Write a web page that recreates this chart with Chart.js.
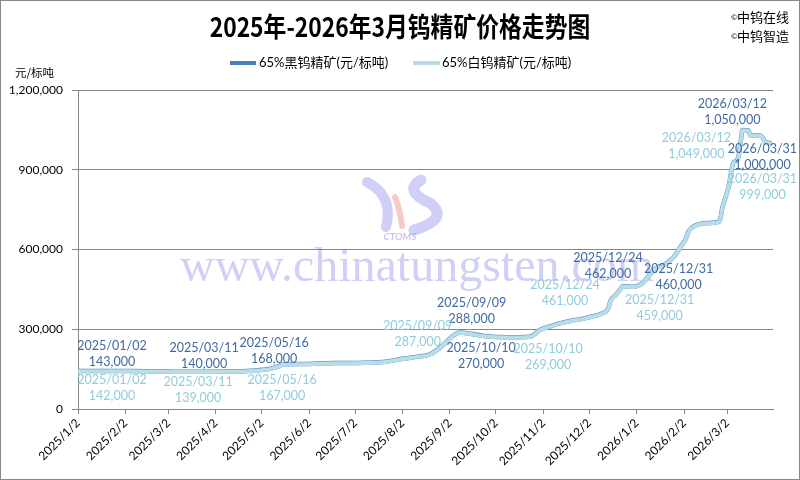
<!DOCTYPE html>
<html>
<head>
<meta charset="utf-8">
<script src="https://cdn.jsdelivr.net/npm/chart.js@4"></script>
<style>
  body { margin: 0; background: #fff; }
  #wrap { width: 800px; height: 480px; position: relative; }
</style>
</head>
<body>
<div id="wrap"><canvas id="myChart" width="800" height="480"></canvas></div>
<script>
(function () {

    // dates of the price points
    const dates = [
        '2025-01-02', '2025-01-15', '2025-02-05', '2025-02-20', '2025-03-03', '2025-03-11', '2025-03-25',
        '2025-04-08', '2025-04-22', '2025-04-30', '2025-05-08', '2025-05-13', '2025-05-16', '2025-05-28',
        '2025-06-10', '2025-06-24', '2025-07-08', '2025-07-22', '2025-08-01', '2025-08-12', '2025-08-20',
        '2025-08-26', '2025-09-01', '2025-09-05', '2025-09-09', '2025-09-15', '2025-09-24', '2025-10-10',
        '2025-10-24', '2025-10-31', '2025-11-07', '2025-11-14', '2025-11-21', '2025-11-28', '2025-12-05',
        '2025-12-10', '2025-12-14', '2025-12-16', '2025-12-19', '2025-12-22', '2025-12-24', '2025-12-31',
        '2026-01-02', '2026-01-06', '2026-01-09', '2026-01-14', '2026-01-21', '2026-01-27', '2026-01-30',
        '2026-02-03', '2026-02-05', '2026-02-10', '2026-02-18', '2026-02-25', '2026-02-27', '2026-03-03',
        '2026-03-06', '2026-03-09', '2026-03-11', '2026-03-12', '2026-03-16', '2026-03-17', '2026-03-24',
        '2026-03-27', '2026-03-31'
    ];

    // 65%黑钨精矿 (元/标吨)
    const blackValues = [
        143000, 143000, 143000, 142000, 141000, 140000, 140000,
        141000, 143000, 146000, 152000, 160000, 168000, 169000,
        172000, 173000, 174000, 178000, 188000, 197000, 206000,
        228000, 260000, 280000, 288000, 283000, 275000, 270000,
        272000, 298000, 312000, 324000, 333000, 340000, 350000,
        358000, 375000, 408000, 428000, 447000, 462000, 460000,
        462000, 475000, 495000, 528000, 546000, 578000, 605000,
        640000, 670000, 692000, 700000, 706000, 760000, 835000,
        925000, 940000, 1010000, 1050000, 1048000, 1030000, 1028000,
        1005000, 1000000
    ];

    // 65%白钨精矿 (元/标吨)
    const whiteValues = [
        142000, 142000, 142000, 141000, 140000, 139000, 139000,
        140000, 142000, 145000, 151000, 159000, 167000, 168000,
        171000, 172000, 173000, 177000, 187000, 196000, 205000,
        227000, 259000, 279000, 287000, 282000, 274000, 269000,
        271000, 297000, 311000, 323000, 332000, 339000, 349000,
        357000, 374000, 407000, 427000, 446000, 461000, 459000,
        461000, 474000, 494000, 527000, 545000, 577000, 604000,
        639000, 669000, 691000, 699000, 705000, 759000, 834000,
        924000, 939000, 1009000, 1049000, 1047000, 1029000, 1027000,
        1004000, 999000
    ];

    const tickLabels = [
        '2025/1/2', '2025/2/2', '2025/3/2', '2025/4/2', '2025/5/2', '2025/6/2', '2025/7/2', '2025/8/2',
        '2025/9/2', '2025/10/2', '2025/11/2', '2025/12/2', '2026/1/2', '2026/2/2', '2026/3/2'
    ];

    // dates that carry a value label
    const labelDates = [
        '2025-01-02', '2025-03-11', '2025-05-16', '2025-09-09', '2025-10-10',
        '2025-12-24', '2025-12-31', '2026-03-12', '2026-03-31'
    ];

    // label offsets from the point (centre of date line), px
    const blackLabelPos = [[34, -25], [22, -24], [-9, -21], [11, -29], [-27, 11], [-15, -28], [45, -18], [-10, -26], [-9, 6]];
    const whiteLabelPos = [[34, 9], [16, 10], [-1, 15], [-43, -7], [40, 11], [-58, -1], [26, 13], [-46, 8], [-9, 36]];

    const BLACK = '#4a7ebb';
    const WHITE = '#b7dde8';
    const BLACK_TXT = '#4169a3';
    const WHITE_TXT = '#92cbdb';
    const FONT = 'Lato, "Noto Sans CJK SC", sans-serif';
    const CJK = '"Noto Sans CJK SC", Lato, sans-serif';

    let dayOf = function (s) {
        let p = s.split(/[-\/]/).map(Number);
        return Math.round((Date.UTC(p[0], p[1] - 1, p[2]) - Date.UTC(2025, 0, 2)) / 86400000);
    };

    let fmt = function (v) {
        return v.toString().replace(/\B(?=(\d{3})+(?!\d))/g, ',');
    };

    let tickDays = tickLabels.map(dayOf);

    let blackData = dates.map(function (d, i) { return { x: dayOf(d), y: blackValues[i] }; });
    let whiteData = dates.map(function (d, i) { return { x: dayOf(d), y: whiteValues[i] }; });

    // title, legend, watermark, frame
    let decorPlugin = {
        id: 'decor',
        beforeDraw: function (chart) {
            const ctx = chart.ctx;
            ctx.save();
            ctx.fillStyle = '#fff';
            ctx.fillRect(0, 0, 800, 480);

            // title
            ctx.save();
            ctx.translate(400, 27);
            ctx.scale(0.845, 1);
            ctx.font = 'bold 27px ' + CJK;
            ctx.fillStyle = '#000';
            ctx.textAlign = 'center';
            ctx.textBaseline = 'middle';
            ctx.fillText('2025年-2026年3月钨精矿价格走势图', 0, 0);
            ctx.restore();

            // copyright
            ctx.fillStyle = '#000';
            ctx.textBaseline = 'middle';
            ctx.textAlign = 'left';
            ctx.font = '8px ' + FONT;
            ctx.fillText('©', 731, 17);
            ctx.fillText('©', 731, 36);
            ctx.font = '13px ' + CJK;
            ctx.fillText('中钨在线', 737, 17);
            ctx.fillText('中钨智造', 737, 36);

            // legend
            ctx.lineWidth = 4;
            ctx.strokeStyle = BLACK;
            ctx.beginPath(); ctx.moveTo(230, 63); ctx.lineTo(256, 63); ctx.stroke();
            ctx.strokeStyle = WHITE;
            ctx.beginPath(); ctx.moveTo(413, 63); ctx.lineTo(440, 63); ctx.stroke();
            ctx.font = '13px ' + FONT;
            ctx.fillStyle = '#000';
            ctx.fillText('65%黑钨精矿(元/标吨)', 259, 63);
            ctx.fillText('65%白钨精矿(元/标吨)', 442, 63);

            // unit
            ctx.font = '11.5px ' + CJK;
            ctx.fillText('元/标吨', 15, 73);

            // frame
            ctx.strokeStyle = '#898989';
            ctx.lineWidth = 1;
            ctx.strokeRect(0.5, 0.5, 799, 479);
            ctx.restore();
        },
        beforeDatasetsDraw: function (chart) {
            const ctx = chart.ctx;
            ctx.save();
            // logo
            ctx.lineCap = 'round';
            ctx.strokeStyle = 'rgba(110,110,230,0.33)';
            ctx.lineWidth = 10;
            ctx.beginPath();
            ctx.moveTo(367, 182);
            ctx.quadraticCurveTo(394, 196, 386, 227);
            ctx.stroke();
            ctx.lineWidth = 11;
            ctx.beginPath();
            ctx.moveTo(421, 180);
            ctx.quadraticCurveTo(403, 191, 430, 203);
            ctx.quadraticCurveTo(450, 219, 414, 230);
            ctx.stroke();
            ctx.strokeStyle = 'rgba(240,120,120,0.4)';
            ctx.lineWidth = 6;
            ctx.beginPath();
            ctx.moveTo(395, 197);
            ctx.quadraticCurveTo(400, 210, 402, 226);
            ctx.stroke();
            ctx.font = 'italic bold 10px ' + FONT;
            ctx.fillStyle = 'rgba(110,110,230,0.4)';
            ctx.textAlign = 'center';
            ctx.textBaseline = 'middle';
            ctx.fillText('CTOMS', 400, 237);

            // site watermark
            ctx.font = '48px "Liberation Serif", serif';
            ctx.fillStyle = 'rgba(100,100,230,0.3)';
            ctx.textAlign = 'left';
            ctx.textBaseline = 'alphabetic';
            ctx.fillText('www.chinatungsten.com', 180, 281);
            ctx.restore();
        }
    };

    // point value labels
    let valueLabels = {
        id: 'valueLabels',
        afterDatasetsDraw: function (chart) {
            const ctx = chart.ctx;
            const xs = chart.scales.x, ys = chart.scales.y;
            ctx.save();
            ctx.font = '12.5px ' + FONT;
            ctx.textAlign = 'center';
            ctx.textBaseline = 'middle';
            labelDates.forEach(function (d, i) {
                let k = dates.indexOf(d);
                let txt = d.replace(/-/g, '/');

                let px = xs.getPixelForValue(dayOf(d));
                let py = ys.getPixelForValue(blackValues[k]);
                ctx.fillStyle = BLACK_TXT;
                ctx.fillText(txt, px + blackLabelPos[i][0], py + blackLabelPos[i][1]);
                ctx.fillText(fmt(blackValues[k]), px + blackLabelPos[i][0], py + blackLabelPos[i][1] + 16);

                py = ys.getPixelForValue(whiteValues[k]);
                ctx.fillStyle = WHITE_TXT;
                ctx.fillText(txt, px + whiteLabelPos[i][0], py + whiteLabelPos[i][1]);
                ctx.fillText(fmt(whiteValues[k]), px + whiteLabelPos[i][0], py + whiteLabelPos[i][1] + 16);
            });
            ctx.restore();
        }
    };

    const ctx = document.getElementById('myChart');

    let chart = new Chart(ctx, {
        type: 'line',
        data: {
            datasets: [
                {
                    label: '65%黑钨精矿(元/标吨)',
                    data: blackData,
                    borderColor: BLACK,
                    borderWidth: 4.5,
                    order: 2
                },
                {
                    label: '65%白钨精矿(元/标吨)',
                    data: whiteData,
                    borderColor: WHITE,
                    borderWidth: 4,
                    order: 1
                }
            ]
        },
        options: {
            animation: false,
            responsive: false,
            layout: {
                padding: { left: 0, top: 90, right: 27, bottom: 0 }
            },
            elements: {
                line: { cubicInterpolationMode: 'monotone', fill: false },
                point: { radius: 0, hoverRadius: 0 }
            },
            plugins: {
                legend: { display: false },
                title: { display: false },
                tooltip: { enabled: false }
            },
            scales: {
                x: {
                    type: 'linear',
                    min: 0,
                    max: 454,
                    afterBuildTicks: function (scale) {
                        scale.ticks = tickDays.map(function (v) { return { value: v }; });
                    },
                    afterFit: function (scale) {
                        scale.height = 71;
                    },
                    ticks: {
                        autoSkip: false,
                        minRotation: 45,
                        maxRotation: 45,
                        padding: 2,
                        color: '#000',
                        font: { family: FONT, size: 12 },
                        callback: function (v) {
                            let i = tickDays.indexOf(v);
                            return i >= 0 ? tickLabels[i] : '';
                        }
                    },
                    grid: {
                        drawOnChartArea: false,
                        tickLength: 5,
                        color: '#868686'
                    },
                    border: { color: '#868686' }
                },
                y: {
                    min: 0,
                    max: 1200000,
                    afterFit: function (scale) {
                        scale.width = 78;
                    },
                    ticks: {
                        stepSize: 300000,
                        padding: 9,
                        color: '#000',
                        font: { family: FONT, size: 12 },
                        callback: function (v) { return fmt(v); }
                    },
                    grid: {
                        color: '#868686',
                        tickLength: 6
                    },
                    border: { color: '#868686' }
                }
            }
        },
        plugins: [decorPlugin, valueLabels]
    });

})();
</script>
</body>
</html>
